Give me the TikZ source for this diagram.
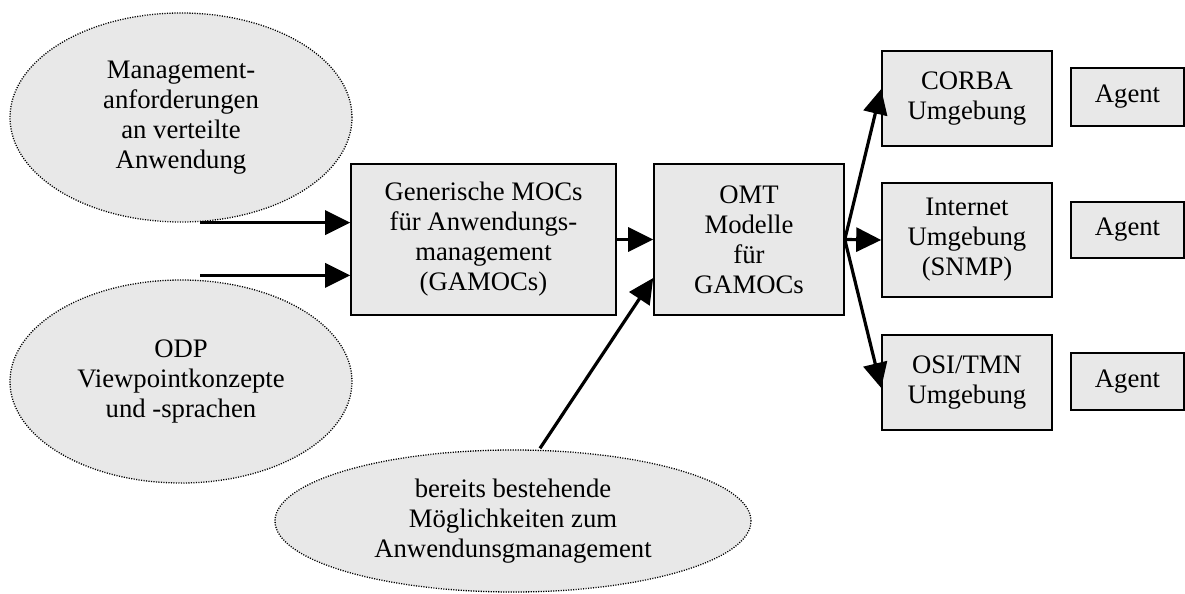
\documentclass[tikz,border=0pt]{standalone}
\usepackage{fontspec}
\setmainfont{Liberation Serif}
\usetikzlibrary{shapes.geometric,arrows.meta,calc}
\definecolor{boxfill}{RGB}{232,232,232}
\begin{document}
\begin{tikzpicture}[x=1bp,y=-1bp,
  txt/.style={font=\fontsize{26.7bp}{30bp}\selectfont, align=center, inner sep=0pt},
  idea/.style={txt, ellipse, draw, fill=boxfill, line width=1.3bp, dash pattern=on 1.1bp off 1.4bp},
  stage/.style={txt, rectangle, draw, fill=boxfill, line width=1.6bp},
  arr/.style={line width=3.2bp, -{Triangle[length=25bp,width=24bp]}}
]
\useasboundingbox (0,0) rectangle (1185,594);

% input sources
\node[idea, minimum width=342bp, minimum height=209bp] (req) at (181,117.5)
  {Management-\\anforderungen\\an verteilte\\Anwendung};
\node[idea, minimum width=342bp, minimum height=203bp] (odp) at (181,381.5)
  {ODP\\Viewpointkonzepte\\und -sprachen};
\node[idea, minimum width=476bp, minimum height=142bp] (exist) at (513,521)
  {bereits bestehende\\Möglichkeiten zum\\Anwendunsgmanagement};

% main chain
\node[stage, minimum width=265bp, minimum height=151bp] (gen) at (483.5,239.5)
  {Generische MOCs\\für Anwendungs-\\management\\(GAMOCs)};
\node[stage, minimum width=190bp, minimum height=151bp] (omt) at (749,239.5)
  {OMT\\Modelle\\für\\GAMOCs};

% target environments
\node[stage, minimum width=170bp, minimum height=95bp] (corba) at (967,98.5)
  {CORBA\\Umgebung};
\node[stage, minimum width=170bp, minimum height=114bp] (inet) at (967,240)
  {Internet\\Umgebung\\(SNMP)};
\node[stage, minimum width=170bp, minimum height=95bp] (osi) at (967,382.5)
  {OSI/TMN\\Umgebung};

% agents
\node[stage, minimum width=113bp, minimum height=58bp] (ag1) at (1127.5,97) {Agent};
\node[stage, minimum width=113bp, minimum height=56bp] (ag2) at (1127.5,230) {Agent};
\node[stage, minimum width=113bp, minimum height=57bp] (ag3) at (1127.5,381.5) {Agent};

% connectors
\coordinate (s1) at ($(req.south)+(19,0)$);
\coordinate (s2) at ($(odp.north)+(19,-4)$);
\coordinate (s3) at ($(exist.north)+(27,-1)$);
\draw[arr] (s1) -- (s1 -| gen.west);
\draw[arr] (s2) -- (s2 -| gen.west);
\draw[arr] (gen.east |- omt.west) -- (omt.west);
\draw[arr] (s3) -- ($(omt.west)+(0,38.5)$);
\draw[arr] (omt.east) -- ($(corba.west)+(0,-9.5)$);
\draw[arr] (omt.east) -- (inet.west);
\draw[arr] (omt.east) -- ($(osi.west)+(0,5.5)$);
\end{tikzpicture}
\end{document}
